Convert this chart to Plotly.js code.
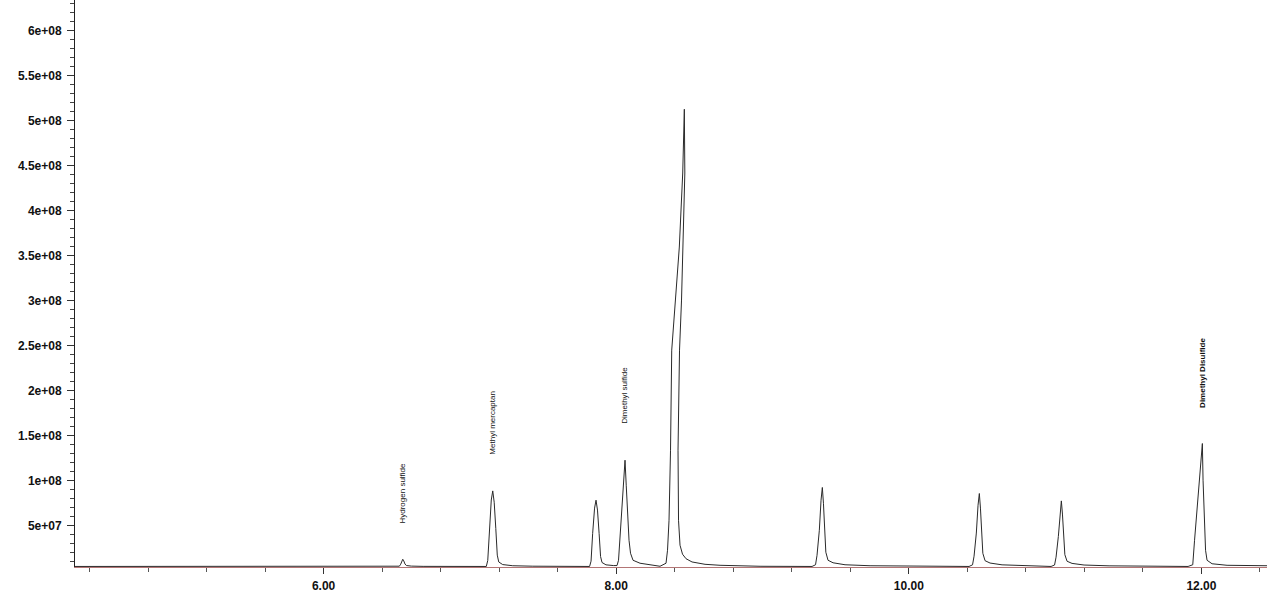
<!DOCTYPE html>
<html>
<head>
<meta charset="utf-8">
<script src="https://cdn.plot.ly/plotly-3.0.1.min.js"></script>
<style>
  html, body { margin: 0; padding: 0; background: #ffffff; }
  #chart { width: 1267px; height: 593px; }
</style>
</head>
<body>
<div id="chart"></div>
<script>
// Retention time (min) of the chromatogram trace
const time = [
  4.301, 5.200, 6.000, 6.490,
  6.518, 6.527, 6.534, 6.541, 6.548, 6.556, 6.566, 6.600, 6.680, 7.112,
  7.122, 7.133, 7.146, 7.156, 7.166, 7.177, 7.187, 7.197, 7.224, 7.293, 7.430, 7.818,
  7.828, 7.839, 7.852, 7.862, 7.872, 7.883, 7.893, 7.903, 7.930, 7.980,
  8.0055, 8.0157, 8.0294, 8.0417, 8.0499, 8.0602, 8.0684, 8.0773, 8.0875, 8.0977, 8.1148, 8.1627, 8.2652, 8.2994,
  8.3404, 8.3507, 8.3609, 8.3712, 8.3794, 8.4053, 8.4313, 8.4545, 8.4655,
  8.4689, 8.4587, 8.4463, 8.4327, 8.4224, 8.4258, 8.4361, 8.4532, 8.4771, 8.5181, 8.6070, 8.7095, 8.9829, 9.3384,
  9.3623, 9.3725, 9.3882, 9.3999, 9.4087, 9.4163, 9.4238, 9.4327, 9.4477, 9.4819, 9.5639, 9.7348, 10.4115,
  10.4354, 10.4457, 10.4614, 10.4730, 10.4819, 10.4894, 10.4969, 10.5058, 10.5209, 10.5550, 10.6371, 10.8079, 10.9720,
  10.9959, 11.0062, 11.0219, 11.0335, 11.0424, 11.0499, 11.0574, 11.0663, 11.0814, 11.1155, 11.1976, 11.3684, 11.9084,
  11.9405, 11.9528, 11.9665, 11.9836, 12.0062, 12.0109, 12.0178, 12.0280, 12.0383, 12.0725, 12.1750, 12.4484
];
// Abundance of the trace at each time
const abundance = [
  5.0e6, 5.0e6, 5.0e6, 5.0e6,
  5.3e6, 7.5e6, 1.1e7, 1.3e7, 1.12e7, 7.8e6, 6.0e6, 5.4e6, 5.1e6, 5.0e6,
  1.17e7, 4.7e7, 7.88e7, 8.89e7, 7.63e7, 4.7e7, 1.76e7, 1.0e7, 7.1e6, 5.8e6, 5.3e6, 5.0e6,
  1.09e7, 4.18e7, 6.98e7, 7.86e7, 6.76e7, 4.18e7, 1.60e7, 9.4e6, 6.8e6, 6.0e6,
  6.0e6, 1.19e7, 4.52e7, 7.67e7, 1.008e8, 1.23e8, 9.52e7, 6.19e7, 3.41e7, 1.97e7, 1.19e7, 8.6e6, 6.3e6, 5.2e6,
  8.6e6, 2.30e7, 5.63e7, 1.341e8, 2.452e8, 3.008e8, 3.597e8, 4.419e8, 5.127e8,
  4.419e8, 3.597e8, 3.008e8, 2.452e8, 1.341e8, 5.63e7, 2.86e7, 1.86e7, 1.36e7, 1.0e7, 7.4e6, 6.3e6, 5.2e6, 5.0e6,
  6.9e6, 1.74e7, 4.52e7, 7.86e7, 9.27e7, 7.52e7, 4.52e7, 2.08e7, 1.19e7, 9.1e6, 6.9e6, 5.8e6, 5.0e6,
  6.8e6, 1.64e7, 4.21e7, 7.30e7, 8.60e7, 6.98e7, 4.21e7, 1.96e7, 1.14e7, 8.8e6, 6.8e6, 5.7e6, 5.0e6,
  6.6e6, 1.53e7, 3.83e7, 6.61e7, 7.78e7, 6.32e7, 3.83e7, 1.81e7, 1.08e7, 8.4e6, 6.6e6, 5.7e6, 5.0e6,
  6.9e6, 3.41e7, 6.19e7, 9.33e7, 1.415e8, 1.008e8, 5.63e7, 2.30e7, 1.19e7, 8.0e6, 6.3e6, 5.8e6
];

// Identified peaks (apex time, apex abundance)
const peakNames   = ['Hydrogen sulfide', 'Methyl mercaptan', 'Dimethyl sulfide', 'Dimethyl Disulfide'];
const peakTimes   = [6.541, 7.156, 8.0602, 12.0062];
const peakHeights = [1.3e7, 8.89e7, 1.23e8, 1.415e8];

// Axis tick labels
const xTickVals = [6, 8, 10, 12];
const xTickText = ['6.00', '8.00', '10.00', '12.00'];
const yTickVals = [5e7, 1e8, 1.5e8, 2e8, 2.5e8, 3e8, 3.5e8, 4e8, 4.5e8, 5e8, 5.5e8, 6e8];
const yTickText = ['5e+07', '1e+08', '1.5e+08', '2e+08', '2.5e+08', '3e+08', '3.5e+08', '4e+08', '4.5e+08', '5e+08', '5.5e+08', '6e+08'];

const trace = {
  x: time,
  y: abundance,
  type: 'scatter',
  mode: 'lines',
  line: { color: '#2a2a2a', width: 1 },
  hoverinfo: 'x+y'
};

const annotations = peakNames.map((name, i) => ({
  x: peakTimes[i],
  y: peakHeights[i],
  xref: 'x',
  yref: 'y',
  text: i === 3 ? '<b>' + name + '</b>' : name,
  showarrow: false,
  textangle: -90,
  xanchor: 'center',
  yanchor: 'bottom',
  yshift: 34,
  font: { family: 'Liberation Sans, Arial, sans-serif', size: 8, color: '#111' }
}));

const layout = {
  width: 1267,
  height: 593,
  margin: { l: 75, r: 0, t: 0, b: 26, pad: 0 },
  paper_bgcolor: '#ffffff',
  plot_bgcolor: '#ffffff',
  showlegend: false,
  font: { family: 'Liberation Sans, Arial, sans-serif', size: 12, color: '#111' },
  xaxis: {
    range: [4.3008, 12.448],
    showgrid: false,
    zeroline: false,
    showline: true,
    linecolor: '#b37575',
    linewidth: 1,
    tickmode: 'array',
    tickvals: xTickVals,
    ticktext: xTickText,
    ticks: 'outside',
    ticklen: 6,
    tickcolor: '#333',
    tickwidth: 1,
    ticklabelstandoff: 2,
    tickfont: { family: 'Liberation Sans, Arial, sans-serif', size: 12, color: '#111', weight: 'bold' },
    minor: { tickmode: 'linear', tick0: 6, dtick: 0.4, ticks: 'outside', ticklen: 4, tickcolor: '#555', tickwidth: 1, showgrid: false }
  },
  yaxis: {
    range: [4.4e6, 6.34e8],
    showgrid: false,
    zeroline: false,
    showline: true,
    linecolor: '#222',
    linewidth: 1,
    tickmode: 'array',
    tickvals: yTickVals,
    ticktext: yTickText,
    ticks: 'outside',
    ticklen: 7,
    tickcolor: '#333',
    tickwidth: 1,
    ticklabelstandoff: 3,
    tickfont: { family: 'Liberation Sans, Arial, sans-serif', size: 12, color: '#111', weight: 'bold' },
    minor: { tickmode: 'linear', tick0: 0, dtick: 1e7, ticks: 'outside', ticklen: 4, tickcolor: '#444', tickwidth: 1, showgrid: false }
  },
  annotations: annotations
};

Plotly.newPlot('chart', [trace], layout, { displayModeBar: false, staticPlot: true });
</script>
</body>
</html>
